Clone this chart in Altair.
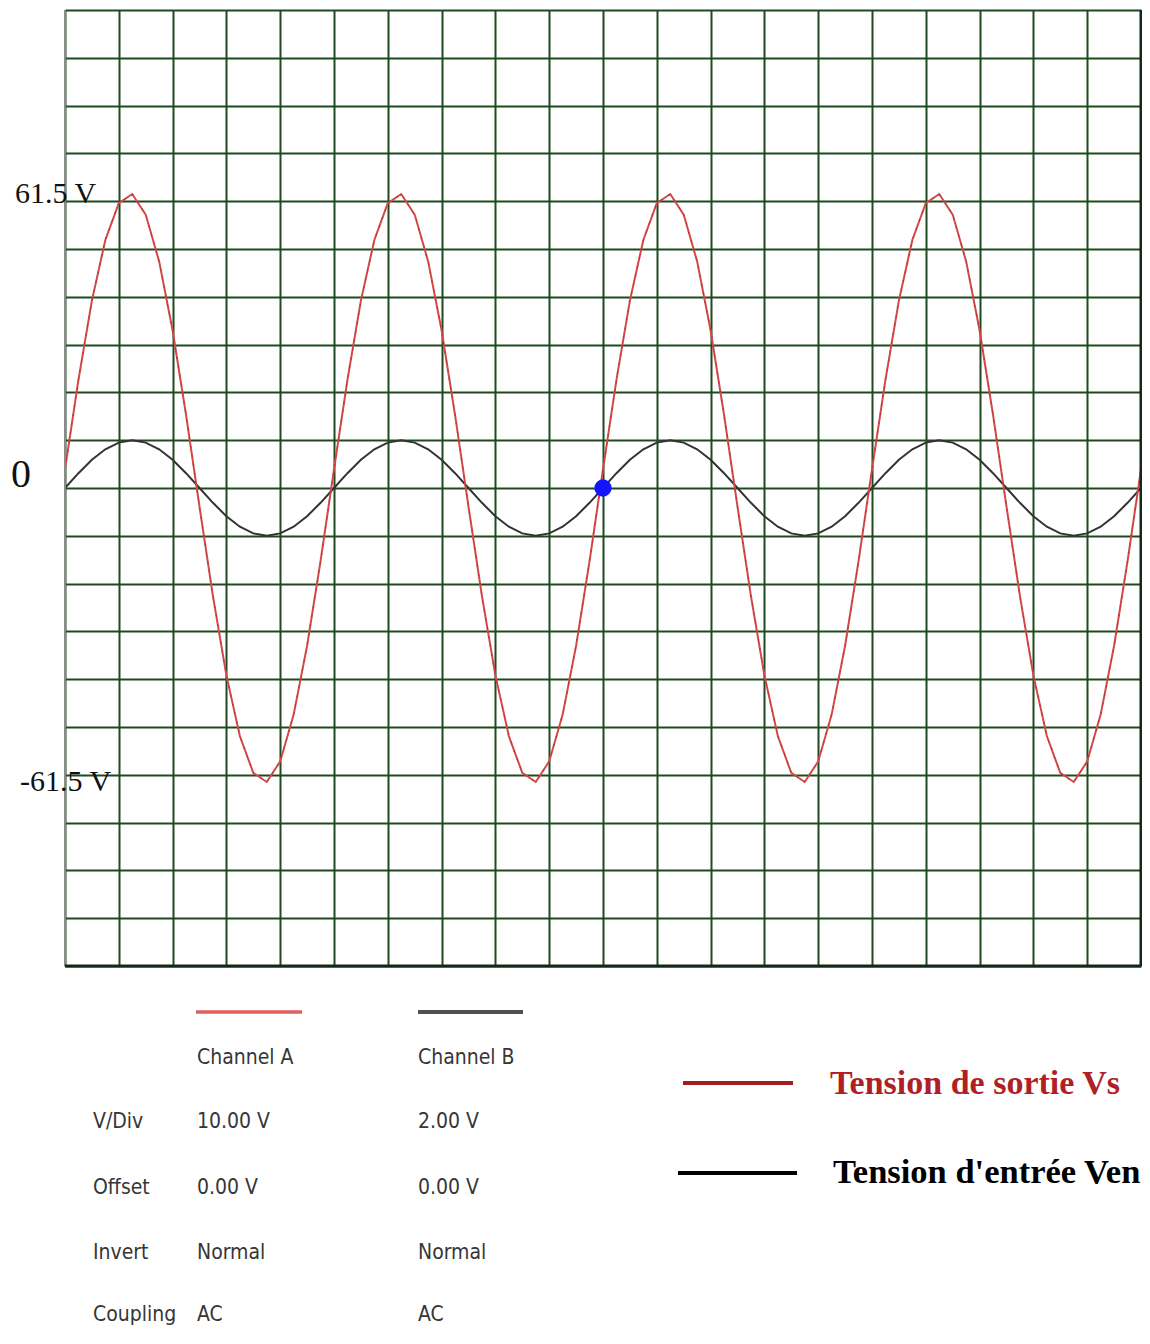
import altair as alt
import pandas as pd

# ---------------- data ----------------
# time axis in divisions (20 horizontal divisions)
t_div = [0, 0.25, 0.5, 0.75, 1, 1.25, 1.5, 1.75, 2, 2.25, 2.5, 2.75, 3, 3.25, 3.5, 3.75,
         4, 4.25, 4.5, 4.75, 5, 5.25, 5.5, 5.75, 6, 6.25, 6.5, 6.75, 7, 7.25, 7.5, 7.75,
         8, 8.25, 8.5, 8.75, 9, 9.25, 9.5, 9.75, 10, 10.25, 10.5, 10.75, 11, 11.25, 11.5,
         11.75, 12, 12.25, 12.5, 12.75, 13, 13.25, 13.5, 13.75, 14, 14.25, 14.5, 14.75,
         15, 15.25, 15.5, 15.75, 16, 16.25, 16.5, 16.75, 17, 17.25, 17.5, 17.75, 18,
         18.25, 18.5, 18.75, 19, 19.25, 19.5, 19.75, 20]

# Channel A : output voltage Vs (V)
vs_volts = [3.9, 22.6, 39.2, 51.9, 59.6, 61.5, 57.2, 47.4, 33.0, 15.3,
            -3.9, -22.6, -39.2, -51.9, -59.6, -61.5, -57.2, -47.4, -33.0, -15.3,
            3.9, 22.6, 39.2, 51.9, 59.6, 61.5, 57.2, 47.4, 33.0, 15.3,
            -3.9, -22.6, -39.2, -51.9, -59.6, -61.5, -57.2, -47.4, -33.0, -15.3,
            3.9, 22.6, 39.2, 51.9, 59.6, 61.5, 57.2, 47.4, 33.0, 15.3,
            -3.9, -22.6, -39.2, -51.9, -59.6, -61.5, -57.2, -47.4, -33.0, -15.3,
            3.9, 22.6, 39.2, 51.9, 59.6, 61.5, 57.2, 47.4, 33.0, 15.3,
            -3.9, -22.6, -39.2, -51.9, -59.6, -61.5, -57.2, -47.4, -33.0, -15.3,
            3.9]

# Channel B : input voltage Ven (V)
ven_volts = [0.0, 0.62, 1.18, 1.62, 1.90, 2.0, 1.90, 1.62, 1.18, 0.62,
             0.0, -0.62, -1.18, -1.62, -1.90, -2.0, -1.90, -1.62, -1.18, -0.62,
             0.0, 0.62, 1.18, 1.62, 1.90, 2.0, 1.90, 1.62, 1.18, 0.62,
             0.0, -0.62, -1.18, -1.62, -1.90, -2.0, -1.90, -1.62, -1.18, -0.62,
             0.0, 0.62, 1.18, 1.62, 1.90, 2.0, 1.90, 1.62, 1.18, 0.62,
             0.0, -0.62, -1.18, -1.62, -1.90, -2.0, -1.90, -1.62, -1.18, -0.62,
             0.0, 0.62, 1.18, 1.62, 1.90, 2.0, 1.90, 1.62, 1.18, 0.62,
             0.0, -0.62, -1.18, -1.62, -1.90, -2.0, -1.90, -1.62, -1.18, -0.62,
             0.0]

vdiv_a = 10.0   # V/Div channel A
vdiv_b = 2.0    # V/Div channel B

cursor_t = [10]
cursor_v = [0]

peak_label_v = [61.5, -61.5]
peak_label_text = ["61.5 V", "-61.5 V"]
zero_label_text = ["0"]

row_names = ["V/Div", "Offset", "Invert", "Coupling"]
chan_a_vals = ["10.00 V", "0.00 V", "Normal", "AC"]
chan_b_vals = ["2.00 V", "0.00 V", "Normal", "AC"]
chan_headers = ["Channel A", "Channel B"]
legend_labels = ["Tension de sortie Vs", "Tension d'entrée Ven"]

# ---------------- styling / layout ----------------
W, H = 1076, 956
GRID = "#1f4a1f"
RED = "#d64848"
BLACK = "#333333"
SERIF = "Liberation Serif"
NARROW = "Liberation Sans Narrow, DejaVu Sans Condensed, Liberation Sans"

xs = alt.Scale(domain=[0, 20], nice=False, zero=False)
ys = alt.Scale(domain=[-10, 10], nice=False, zero=False)

wave_a = pd.DataFrame({"t": t_div, "div": [v / vdiv_a for v in vs_volts]})
wave_b = pd.DataFrame({"t": t_div, "div": [v / vdiv_b for v in ven_volts]})

x_axis = alt.Axis(values=list(range(21)), grid=True, gridColor=GRID, gridWidth=2,
                  gridOpacity=1, domain=False, ticks=False, labels=False, title=None)
y_axis = alt.Axis(values=list(range(-10, 11)), grid=True, gridColor=GRID, gridWidth=2,
                  gridOpacity=1, domain=False, ticks=False, labels=False, title=None)

line_b = alt.Chart(wave_b).mark_line(color=BLACK, strokeWidth=2).encode(
    x=alt.X("t:Q", scale=xs, axis=x_axis),
    y=alt.Y("div:Q", scale=ys, axis=y_axis),
)
line_a = alt.Chart(wave_a).mark_line(color=RED, strokeWidth=2).encode(
    x=alt.X("t:Q", scale=xs),
    y=alt.Y("div:Q", scale=ys),
)
line_a_dots = alt.Chart(wave_a).mark_line(color="#7a2a2a", strokeWidth=1,
                                          strokeDash=[2, 7], opacity=0.6).encode(
    x=alt.X("t:Q", scale=xs),
    y=alt.Y("div:Q", scale=ys),
)

cursor = alt.Chart(pd.DataFrame({"t": cursor_t, "div": [v / vdiv_a for v in cursor_v]})).mark_point(
    filled=True, color="#1414ff", size=300, opacity=1).encode(
    x=alt.X("t:Q", scale=xs), y=alt.Y("div:Q", scale=ys))

# frame
left_b = alt.Chart(pd.DataFrame({"t": [0]})).mark_rule(color="#8a8a8a", strokeWidth=2).encode(
    x=alt.X("t:Q", scale=xs))
right_b = alt.Chart(pd.DataFrame({"t": [20]})).mark_rule(color="#14281a", strokeWidth=3).encode(
    x=alt.X("t:Q", scale=xs))
bottom_b = alt.Chart(pd.DataFrame({"div": [-10]})).mark_rule(color="#14281a", strokeWidth=3).encode(
    y=alt.Y("div:Q", scale=ys))

# y annotations
pos_df = pd.DataFrame({"div": [peak_label_v[0] / vdiv_a], "lab": [peak_label_text[0]]})
neg_df = pd.DataFrame({"div": [peak_label_v[1] / vdiv_a], "lab": [peak_label_text[1]]})
pos_txt = alt.Chart(pos_df).mark_text(font=SERIF, fontSize=30, align="left",
                                      baseline="middle", color="#111111").encode(
    x=alt.value(-50), y=alt.Y("div:Q", scale=ys), text="lab:N")
neg_txt = alt.Chart(neg_df).mark_text(font=SERIF, fontSize=30, align="left",
                                      baseline="middle", color="#111111").encode(
    x=alt.value(-45), y=alt.Y("div:Q", scale=ys), text="lab:N")
zero_txt = alt.Chart(pd.DataFrame({"div": [0], "lab": zero_label_text})).mark_text(
    font=SERIF, fontSize=40, align="left", baseline="middle", color="#111111", dy=-13).encode(
    x=alt.value(-54), y=alt.Y("div:Q", scale=ys), text="lab:N")

# bottom settings table (pixel layout, relative to plot top)
col_x = [28, 132, 353]
head_y = 1048
row_ys = [1112, 1178, 1243, 1305]
tab_rows = []
for i, name in enumerate(row_names):
    y = row_ys[i]
    tab_rows.append({"px": col_x[0], "py": y, "txt": name})
    tab_rows.append({"px": col_x[1], "py": y, "txt": chan_a_vals[i]})
    tab_rows.append({"px": col_x[2], "py": y, "txt": chan_b_vals[i]})
tab_rows.append({"px": col_x[1], "py": head_y, "txt": chan_headers[0]})
tab_rows.append({"px": col_x[2], "py": head_y, "txt": chan_headers[1]})
tab = alt.Chart(pd.DataFrame(tab_rows)).mark_text(
    font=NARROW, fontSize=21, align="left", baseline="middle", color="#363636").encode(
    x=alt.X("px:Q", scale=None), y=alt.Y("py:Q", scale=None), text="txt:N")

sample_a = alt.Chart(pd.DataFrame({"k": [0]})).mark_rule(color="#e06060", strokeWidth=3.5).encode(
    x=alt.value(131), x2=alt.value(237), y=alt.value(1002))
sample_b = alt.Chart(pd.DataFrame({"k": [0]})).mark_rule(color="#505050", strokeWidth=4).encode(
    x=alt.value(353), x2=alt.value(458), y=alt.value(1002))

# right legend
leg_a_line = alt.Chart(pd.DataFrame({"k": [0]})).mark_rule(color="#a31c22", strokeWidth=4).encode(
    x=alt.value(618), x2=alt.value(728), y=alt.value(1073))
leg_b_line = alt.Chart(pd.DataFrame({"k": [0]})).mark_rule(color="#000000", strokeWidth=4).encode(
    x=alt.value(613), x2=alt.value(732), y=alt.value(1163))
leg_a_txt = alt.Chart(pd.DataFrame({"lab": [legend_labels[0]]})).mark_text(
    font=SERIF, fontSize=34, fontWeight="bold", align="left", baseline="middle",
    color="#b01f27").encode(x=alt.value(765), y=alt.value(1074), text="lab:N")
leg_b_txt = alt.Chart(pd.DataFrame({"lab": [legend_labels[1]]})).mark_text(
    font=SERIF, fontSize=34.5, fontWeight="bold", align="left", baseline="middle",
    color="#000000").encode(x=alt.value(768), y=alt.value(1163), text="lab:N")

chart = alt.layer(
    line_b, line_a, line_a_dots, cursor, left_b, right_b, bottom_b,
    pos_txt, neg_txt, zero_txt, tab, sample_a, sample_b,
    leg_a_line, leg_b_line, leg_a_txt, leg_b_txt,
).properties(
    width=W, height=H,
    autosize=alt.AutoSizeParams(type="none"),
    padding={"left": 57, "top": 2, "right": 1, "bottom": 366},
    background="white",
).configure_view(stroke=None)

chart.save("out.html", embed_options={"renderer": "svg", "actions": False})
